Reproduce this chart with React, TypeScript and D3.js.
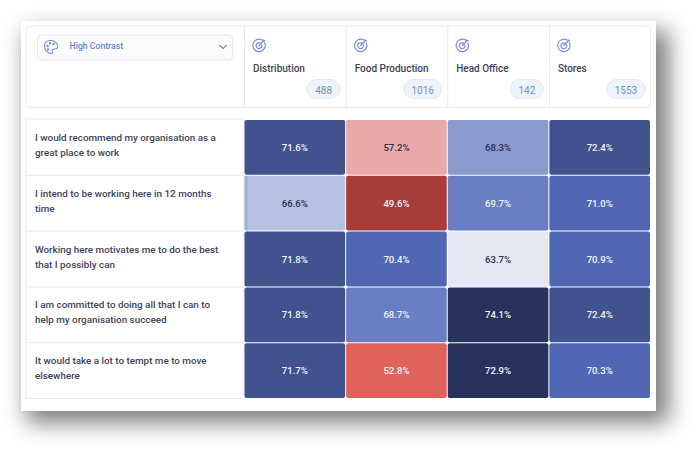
import React from "react";
import * as d3 from "d3";

const columns = ["Distribution", "Food Production", "Head Office", "Stores"];
const counts = [488, 1016, 142, 1553];
const questions = [
  ["I would recommend my organisation as a", "great place to work"],
  ["I intend to be working here in 12 months", "time"],
  ["Working here motivates me to do the best", "that I possibly can"],
  ["I am committed to doing all that I can to", "help my organisation succeed"],
  ["It would take a lot to tempt me to move", "elsewhere"],
];
const values = [
  [71.6, 57.2, 68.3, 72.4],
  [66.6, 49.6, 69.7, 71.0],
  [71.8, 70.4, 63.7, 70.9],
  [71.8, 68.7, 74.1, 72.4],
  [71.7, 52.8, 72.9, 70.3],
];
const colorBreaks = [50, 55, 60, 65, 68, 68.5, 70, 71.5, 72.8];
const colorSteps = ["#a83c3a", "#e0635b", "#eaa9a9", "#e4e8f5", "#b5c1e2", "#8a9acf", "#6a7ec3", "#5068b3", "#41528f", "#27335c"];
const darkText = "#2a2f4f";
const FONT = "Roboto, 'Noto Sans', sans-serif";

const color = d3.scaleThreshold<number, string>().domain(colorBreaks).range(colorSteps);
const x = d3.scaleBand<number>().domain(d3.range(columns.length)).range([244, 650.5]);
const y = d3.scaleBand<number>().domain(d3.range(questions.length)).range([119.5, 398.5]);

function TargetIcon({ cx, cy }: { cx: number; cy: number }) {
  return (
    <g transform={`translate(${cx},${cy})`} fill="none" stroke="#7b90d3" strokeWidth={1.2} strokeLinecap="round">
      <path d="M3.2,-5.4 A6.2,6.2 0 1 0 5.6,-2.8" />
      <path d="M1.2,-2.4 A2.9,2.9 0 1 0 2.7,-0.7" />
      <path d="M0,0 L5,-5 M4,-3.8 L4.2,-5.6 M5.8,-4.8 L4.2,-4.6" />
    </g>
  );
}

export default function App() {
  return (
    <svg width={698} height={453} style={{ position: "absolute", left: 0, top: 0, background: "#fff" }} fontFamily={FONT}>
      <defs>
        <filter id="shadow" x="-10%" y="-10%" width="125%" height="130%">
          <feGaussianBlur stdDeviation="11" />
        </filter>
      </defs>
      <rect x={26} y={30} width={643} height={393} fill="#000" opacity={0.5} filter="url(#shadow)" />
      <rect x={21} y={21} width={635} height={390} fill="#fff" />

      <rect x={26} y={26} width={624.5} height={81.5} rx={4} fill="#fff" stroke="#e8ebf2" />
      <rect x={37.5} y={35} width={195} height={25} rx={4} fill="#fbfcfe" stroke="#e6e9f0" />
      <g transform="translate(51,47)" fill="none" stroke="#7b90d3" strokeWidth={1.1}>
        <path d="M-1,-6.5 C-6,-6.5 -6.8,-2 -6.5,0 C-6,3.5 -3,6.5 0,6.5 C2,6.5 1.5,4.5 1.2,3.5 C1,2 2.5,2 4,2 C6,2 6.8,0.5 6.5,-1 C6,-4.5 3,-6.5 -1,-6.5 Z" />
        <circle cx={-3.5} cy={-1} r={0.7} />
        <circle cx={-1} cy={-3.7} r={0.7} />
        <circle cx={2.5} cy={-3} r={0.7} />
        <circle cx={-3} cy={2.5} r={0.7} />
      </g>
      <text x={69.5} y={49} fontSize={8.7} fontWeight={500} fill="#6486cc">High Contrast</text>
      <path d="M219.5,45 L223,48.5 L226.5,45" fill="none" stroke="#3a3f55" strokeWidth={1} />

      {columns.map((name, i) => {
        const left = x(i)!;
        return (
          <g key={name}>
            <line x1={left + 0.5} x2={left + 0.5} y1={26} y2={107.5} stroke="#e8ebf2" />
            <TargetIcon cx={left + 15} cy={45.5} />
            <text x={left + 9} y={72} fontSize={10} fontWeight={500} fill="#3f4360">{name}</text>
          </g>
        );
      })}
      {counts.map((count, i) => {
        const w = String(count).length > 3 ? 38 : 33;
        const right = x(i)! + x.bandwidth() - 5.5;
        return (
          <g key={count}>
            <rect x={right - w} y={79.5} width={w} height={19} rx={9.5} fill="#eff3fa" stroke="#e4e9f3" />
            <text x={right - w / 2} y={93.5} textAnchor="middle" fontSize={10} fill="#7391c6">{count}</text>
          </g>
        );
      })}

      <rect x={26} y={119} width={218} height={279.5} fill="#fff" stroke="#e8ebf2" />
      {questions.map((lines, r) => (
        <g key={r}>
          <line x1={26} x2={244} y1={y(r)! + y.bandwidth()} y2={y(r)! + y.bandwidth()} stroke="#e8ebf2" />
          {lines.map((l, k) => (
            <text key={k} x={35} y={y(r)! + 21.5 + k * 15} fontSize={9.85} fontWeight={500} fill="#3f4360">{l}</text>
          ))}
        </g>
      ))}

      {values.map((row, r) =>
        row.map((v, c) => {
          const fill = color(v);
          const dark = v >= 57 && v < 68.5;
          return (
            <g key={`${r}-${c}`}>
              <rect x={x(c)! + 0.5} y={y(r)! + 0.5} width={x.bandwidth() - 1} height={y.bandwidth() - 1} rx={2} fill={fill} />
              <text x={x(c)! + x.bandwidth() / 2} y={y(r)! + y.bandwidth() / 2 + 3.5} textAnchor="middle" fontSize={9.6} fontWeight={500}
                fill={dark ? darkText : "#f2f4fa"}>{v.toFixed(1)}%</text>
            </g>
          );
        })
      )}
      <rect x={x(0)! + 0.5} y={y(1)! + 0.5} width={3} height={y.bandwidth() - 1} fill="#8f9cc8" opacity={0.45} />
    </svg>
  );
}
